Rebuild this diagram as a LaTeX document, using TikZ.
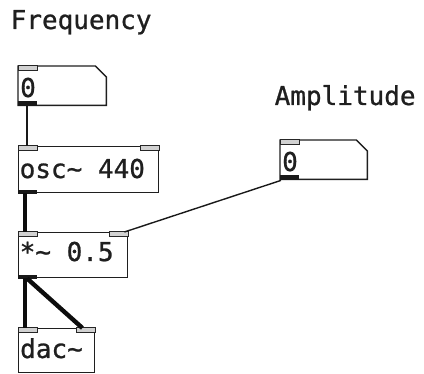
\documentclass[tikz,border=0pt]{standalone}
\usepackage{fontspec}
\newfontfamily\pdmono{DejaVu Sans Mono}[FakeBold=0.9]
\usetikzlibrary{calc}

\tikzset{
  box/.style={draw=black!88, line width=1.4pt, inner sep=0pt, anchor=north west},
  hold/.style={inner sep=0pt, anchor=north west},
  numbox/.style={draw=black!88, line width=1.4pt, fill=white},
  inlet/.style={draw=black!85, fill=black!18, line width=1pt},
  outlet/.style={fill=black!90, draw=none},
  label/.style={font=\pdmono\fontsize{26}{26}\selectfont, inner sep=0pt, anchor=base west, text=black!88},
  thin/.style={draw=black!90, line width=1.4pt},
  thick/.style={draw=black!95, line width=4.4pt},
}

\begin{document}
\begin{tikzpicture}[x=1pt, y=-1pt]
\useasboundingbox (0,0) rectangle (424,374);

% comments
\node[label] (freq) at (10.5,29) {Frequency};
\node[label] (ampl) at (274.5,105) {Amplitude};

% number boxes (name holders, outline drawn below)
\node[hold, minimum width=88pt, minimum height=39pt] (num1) at (18,66) {};
\node[hold, minimum width=87pt, minimum height=39pt] (num2) at (280,140) {};

% object boxes
\node[box, minimum width=140pt, minimum height=46pt] (osc) at (18,146) {};
\node[box, minimum width=109pt, minimum height=45pt] (mul) at (18,232) {};
\node[box, minimum width=76pt, minimum height=44pt] (dac) at (18,328) {};

% number box outlines with the clipped corner
\foreach \n in {num1,num2}{
  \draw[numbox] (\n.north west) -- ([xshift=-11pt]\n.north east)
    -- ([yshift=-11pt]\n.north east) -- (\n.south east)
    -- (\n.south west) -- cycle;
}

% texts
\node[label] (num1t) at (20,97) {0};
\node[label] (num2t) at (282,171) {0};
\node[label] (osct) at (19.5,178) {osc\textasciitilde{} 440};
\node[label] (mult) at (19.5,261) {*\textasciitilde{} 0.5};
\node[label] (dact) at (20,358) {dac\textasciitilde};

% inlets
\foreach \n in {num1,num2,osc,mul,dac}{
  \draw[inlet] (\n.north west) rectangle ($(\n.north west)+(19,5)$);
}
\foreach \n in {osc,mul,dac}{
  \draw[inlet] (\n.north east) rectangle ($(\n.north east)+(-19,5)$);
}

% outlets
\foreach \n in {num1,num2}{
  \fill[outlet] ($(\n.south west)+(0,-4)$) rectangle ($(\n.south west)+(19,0.7)$);
}
\foreach \n in {osc,mul}{
  \fill[outlet] ($(\n.south west)+(0,-3.5)$) rectangle ($(\n.south west)+(19,0.7)$);
}

% connections
\draw[thin] ($(num1.south west)+(9,0)$) -- ($(osc.north west)+(9,0)$);
\draw[thick] ($(osc.south west)+(7,0)$) -- ($(mul.north west)+(7,0)$);
\draw[thin] ($(num2.south west)+(1,1)$) -- ($(mul.north east)+(-4,0)$);
\draw[thick] ($(mul.south west)+(7,0)$) -- ($(dac.north west)+(7,0)$);
\draw[thick] ($(mul.south west)+(9,0)$) -- ($(dac.north east)+(-13,0)$);
\end{tikzpicture}
\end{document}
